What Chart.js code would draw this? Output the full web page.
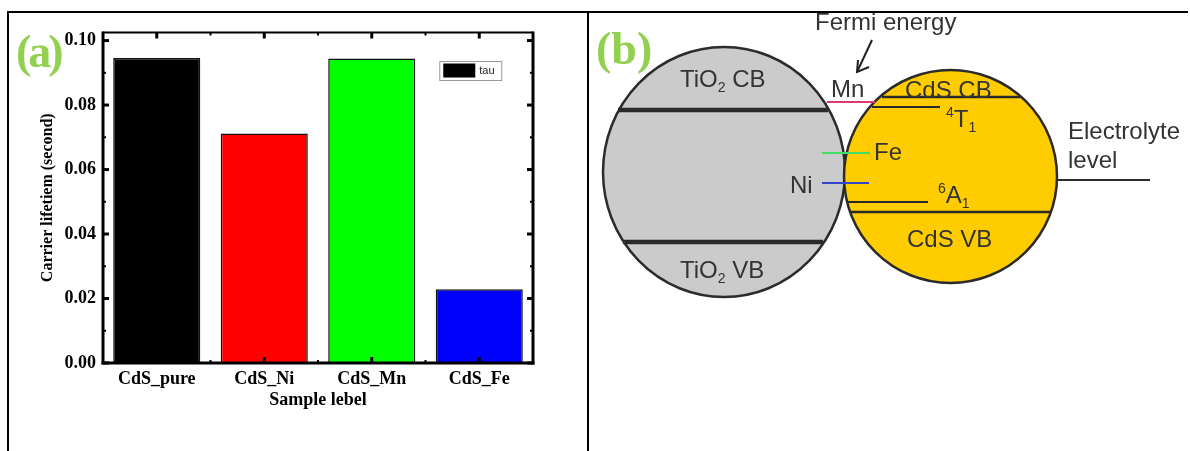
<!DOCTYPE html>
<html>
<head>
<meta charset="utf-8">
<script src="https://cdn.jsdelivr.net/npm/chart.js@4.4.0/dist/chart.umd.min.js"></script>
<style>
  html, body { margin: 0; padding: 0; background: #fff; }
  body { position: relative; width: 1190px; height: 451px; overflow: hidden; }
  .rule { position: absolute; background: #000; }
  .tag { position: absolute; font: bold 46px 'Liberation Serif', serif; color: #92d050; line-height: 46px; }
  canvas { position: absolute; }
</style>
</head>
<body>
<div class="rule" style="left:7px;top:11px;width:1181px;height:2px"></div>
<div class="rule" style="left:7px;top:11px;width:2px;height:440px"></div>
<div class="rule" style="left:587px;top:11px;width:2px;height:440px"></div>

<canvas id="chartA" width="578" height="438" style="left:9px;top:13px"></canvas>
<canvas id="chartB" width="601" height="438" style="left:589px;top:13px"></canvas>

<div class="tag" style="left:16px;top:29px;letter-spacing:-3px">(a)</div>
<div class="tag" style="left:596px;top:26px">(b)</div>

<script>
// ---- panel (a) data ----
const samples = ['CdS_pure', 'CdS_Ni', 'CdS_Mn', 'CdS_Fe'];
const tau = [0.0946, 0.0712, 0.0944, 0.0229];
const barColors = ['#000000', '#ff0000', '#00ff00', '#0000ff'];
const yMax = 0.1025;

// ---- panel (b) data (diagram units, y = energy upwards) ----
const particleNames = ['TiO2', 'CdS'];
const particleCx = [135, 361.5];
const particleCy = [279, 274.5];
const particleRx = [121, 106.5];
const particleRy = [125, 106.5];
const particleFill = ['#cbcbcb', '#ffcc00'];

const levelNames  = ['TiO2 CB', 'TiO2 VB', 'CdS CB', '4T1', 'Mn', 'Fe', 'Ni', '6A1', 'CdS VB', 'Electrolyte'];
const levelEnergy = [341, 209, 354, 344, 349, 298, 268, 249, 239, 271];
const levelStart  = [29, 34, 293, 283, 238, 233, 233, 259, 261, 468];
const levelEnd    = [239, 234, 431, 351, 286, 281, 280, 339, 461, 561];
const levelColor  = ['#2a2a2a', '#2a2a2a', '#2a2a2a', '#2a2a2a', '#dd3a72', '#44dd66', '#3344cc', '#2a2a2a', '#2a2a2a', '#2a2a2a'];
const levelWidth  = [4.5, 4.5, 2.5, 2, 2, 2, 2, 2, 2.5, 2];

const arrowShaft = [{x: 283, y: 411}, {x: 268, y: 379}];
const arrowHead = [{x: 269, y: 391}, {x: 268, y: 379}, {x: 280, y: 384}];

const labelParts = [
  [{t: 'TiO'}, {t: '2', s: 'sub'}, {t: ' CB'}],
  [{t: 'TiO'}, {t: '2', s: 'sub'}, {t: ' VB'}],
  [{t: 'CdS CB'}],
  [{t: '4', s: 'sup'}, {t: 'T'}, {t: '1', s: 'sub'}],
  [{t: 'Mn'}],
  [{t: 'Fe'}],
  [{t: 'Ni'}],
  [{t: '6', s: 'sup'}, {t: 'A'}, {t: '1', s: 'sub'}],
  [{t: 'CdS VB'}],
  [{t: 'Electrolyte'}],
  [{t: 'level'}],
  [{t: 'Fermi energy'}]
];
const labelX = [91, 91, 316, 357, 242, 285, 201, 349, 318, 479, 479, 226];
const labelY = [364, 173, 353, 324, 354, 291, 258, 248, 204, 312, 283, 421];

const serif = "'Liberation Serif', 'Times New Roman', serif";
const sans = "'Liberation Sans', Arial, sans-serif";

// frame, inward ticks on all four sides
const frameA = {
  id: 'frameA',
  afterDatasetsDraw(chart) {
    const {ctx, chartArea: a, scales: {x, y}} = chart;
    const seg = (x0, y0, x1, y1) => { ctx.beginPath(); ctx.moveTo(x0, y0); ctx.lineTo(x1, y1); ctx.stroke(); };
    ctx.save();
    ctx.strokeStyle = '#000';
    y.ticks.forEach((t, i) => {
      const py = y.getPixelForValue(t.value);
      ctx.lineWidth = 3;
      seg(a.left, py, a.left + 6, py);
      seg(a.right, py, a.right - 6, py);
      if (i < y.ticks.length - 1) {
        const pm = y.getPixelForValue((t.value + y.ticks[i + 1].value) / 2);
        ctx.lineWidth = 2;
        seg(a.left, pm, a.left + 3, pm);
        seg(a.right, pm, a.right - 3, pm);
      }
    });
    samples.forEach((s, i) => {
      const px = x.getPixelForValue(i);
      ctx.lineWidth = 3;
      seg(px, a.bottom, px, a.bottom - 6);
      seg(px, a.top, px, a.top + 6);
      if (i > 0) {
        const pb = x.getPixelForValue(i - 0.5);
        ctx.lineWidth = 2;
        seg(pb, a.bottom, pb, a.bottom - 3);
        seg(pb, a.top, pb, a.top + 3);
      }
    });
    ctx.lineWidth = 2;
    seg(a.left, a.top, a.right, a.top);
    ctx.lineWidth = 3;
    seg(a.left, a.top - 1, a.left, a.bottom + 1.5);
    seg(a.right, a.top - 1, a.right, a.bottom + 1.5);
    seg(a.left - 1.5, a.bottom, a.right + 1.5, a.bottom);
    ctx.restore();
  },
  afterDraw(chart) {
    const {ctx, chartArea: a} = chart;
    const bx = a.left + a.width * 0.782, by = a.top + 28.5;
    ctx.save();
    ctx.fillStyle = '#fff';
    ctx.fillRect(bx, by, 62, 19);
    ctx.strokeStyle = '#999';
    ctx.lineWidth = 1;
    ctx.strokeRect(bx + 0.5, by + 0.5, 62, 19);
    ctx.fillStyle = barColors[0];
    ctx.fillRect(bx + 4, by + 2.5, 32, 14);
    ctx.fillStyle = '#222';
    ctx.font = '11px ' + sans;
    ctx.textBaseline = 'middle';
    ctx.fillText(chart.data.datasets[0].label, bx + 40, by + 10);
    ctx.restore();
  }
};

new Chart(document.getElementById('chartA'), {
  type: 'bar',
  data: {
    labels: samples,
    datasets: [{
      label: 'tau',
      data: tau,
      backgroundColor: barColors,
      borderColor: '#111',
      borderWidth: 1.5,
      categoryPercentage: 1,
      barPercentage: 0.81
    }]
  },
  options: {
    responsive: false,
    animation: false,
    events: [],
    layout: { padding: { left: 0, top: 19.5, right: 54, bottom: 36 } },
    plugins: { legend: { display: false }, tooltip: { enabled: false } },
    scales: {
      x: {
        grid: { display: false, drawTicks: false },
        border: { display: false },
        ticks: { color: '#000', padding: 6, font: { family: serif, size: 18, weight: 'bold' } },
        title: { display: true, text: 'Sample lebel', color: '#000', padding: { top: 4, bottom: 4 },
                 font: { family: serif, size: 18, weight: 'bold' } },
        afterFit: s => { s.height = 52; }
      },
      y: {
        min: 0,
        max: yMax,
        grid: { display: false, drawTicks: false },
        border: { display: false },
        ticks: { stepSize: 0.02, includeBounds: false, color: '#000', padding: 7,
                 font: { family: serif, size: 18, weight: 'bold' },
                 callback: v => v.toFixed(2) },
        title: { display: true, text: 'Carrier lifetiem (second)', color: '#000', padding: { top: 29, bottom: 0 },
                 font: { family: serif, size: 16, weight: 'bold' } },
        afterFit: s => { s.width = 94; }
      }
    }
  },
  plugins: [frameA]
});

// ---- panel (b) ----
const schematic = {
  id: 'schematic',
  beforeDatasetsDraw(chart) {
    const {ctx, scales: {x, y}} = chart;
    ctx.save();
    particleNames.forEach((n, i) => {
      const px = x.getPixelForValue(particleCx[i]);
      const py = y.getPixelForValue(particleCy[i]);
      const rx = x.getPixelForValue(particleCx[i] + particleRx[i]) - px;
      const ry = py - y.getPixelForValue(particleCy[i] + particleRy[i]);
      ctx.beginPath();
      ctx.ellipse(px, py, rx, ry, 0, 0, Math.PI * 2);
      ctx.fillStyle = particleFill[i];
      ctx.fill();
      ctx.lineWidth = 2.5;
      ctx.strokeStyle = '#2b2b2b';
      ctx.stroke();
    });
    ctx.restore();
  },
  afterDatasetsDraw(chart) {
    const {ctx, scales: {x, y}} = chart;
    ctx.save();
    ctx.fillStyle = '#333';
    ctx.textBaseline = 'alphabetic';
    labelParts.forEach((parts, i) => {
      let cx = x.getPixelForValue(labelX[i]);
      const by = y.getPixelForValue(labelY[i]);
      parts.forEach(p => {
        ctx.font = (p.s ? 14 : 24) + 'px ' + sans;
        const dy = p.s === 'sub' ? 5 : p.s === 'sup' ? -10 : 0;
        ctx.fillText(p.t, cx, by + dy);
        cx += ctx.measureText(p.t).width;
      });
    });
    ctx.restore();
  }
};

const levelSets = levelNames.map((n, i) => ({
  label: n,
  data: [{x: levelStart[i], y: levelEnergy[i]}, {x: levelEnd[i], y: levelEnergy[i]}],
  showLine: true,
  borderColor: levelColor[i],
  borderWidth: levelWidth[i],
  pointRadius: 0,
  borderCapStyle: 'butt'
}));
levelSets.push({ label: 'arrow', data: arrowShaft, showLine: true, borderColor: '#222', borderWidth: 2, pointRadius: 0 });
levelSets.push({ label: 'arrowhead', data: arrowHead, showLine: true, borderColor: '#222', borderWidth: 2, pointRadius: 0 });

new Chart(document.getElementById('chartB'), {
  type: 'scatter',
  data: { datasets: levelSets },
  options: {
    responsive: false,
    animation: false,
    events: [],
    layout: { padding: 0 },
    plugins: { legend: { display: false }, tooltip: { enabled: false } },
    scales: {
      x: { type: 'linear', display: false, min: 0, max: 601 },
      y: { type: 'linear', display: false, min: 0, max: 438 }
    }
  },
  plugins: [schematic]
});
</script>
</body>
</html>
